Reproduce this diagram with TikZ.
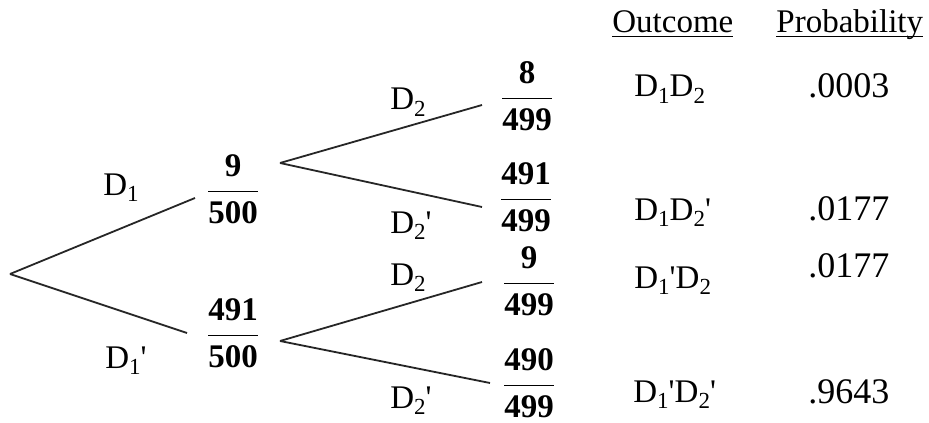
\documentclass[tikz,border=0pt]{standalone}
\usepackage{fontspec}
\setmainfont{Liberation Serif}
\usepackage{tikz}
\usetikzlibrary{positioning}

\newcommand{\Ev}[1]{D\raisebox{-3.3pt}{\fontsize{11.5}{12}\selectfont #1}}
\newcommand{\cmp}{\textquotesingle}
\newcommand{\pfrac}[2]{$\displaystyle\frac{\hbox{\bfseries #1}}{\hbox{\bfseries #2}}$}
\newcommand{\ulhead}[1]{\setbox0=\hbox{#1}\rlap{\rule[-2pt]{\wd0}{0.6pt}}\box0}

\begin{document}
\begin{tikzpicture}[
    x=0.5pt, y=-0.5pt,
    font=\fontsize{16.5}{19}\selectfont,
    frac/.style={inner sep=0pt},
    lbl/.style={anchor=base west, inner sep=0pt},
    prob/.style={lbl, font=\fontsize{18}{20}\selectfont},
    branch/.style={line width=0.9pt, black!85}
]
\useasboundingbox (0,0) rectangle (929,422);

% header
\node[lbl] (hout) at (612,33) {\ulhead{Outcome}};
\node[lbl] (hprob) at (776,33) {\ulhead{Probability}};

% first stage
\coordinate (root) at (10,274);
\node[frac] (d1) at (233,189) {\pfrac{9}{500}};
\node[frac] (d1c) at (233,333) {\pfrac{491}{500}};
\coordinate (d1in) at (195,198);
\coordinate (d1cin) at (187,333);
\coordinate (d1out) at (280,163);
\coordinate (d1cout) at (280,341);

% second stage
\node[frac] (d1d2) at (527,96) {\pfrac{8}{499}};
\node[frac] (d1d2c) at (526,197) {\pfrac{491}{499}};
\node[frac] (d1cd2) at (529,281) {\pfrac{9}{499}};
\node[frac] (d1cd2c) at (529,383) {\pfrac{490}{499}};
\coordinate (d1d2in) at (482,105);
\coordinate (d1d2cin) at (482,207);
\coordinate (d1cd2in) at (482,282);
\coordinate (d1cd2cin) at (490,383);

% branch labels
\node[lbl] (l1) at (103,195) {\Ev{1}};
\node[lbl] (l1c) at (105,368) {\Ev{1}\cmp};
\node[lbl] (l2a) at (390,110) {\Ev{2}};
\node[lbl] (l2ac) at (390,233) {\Ev{2}\cmp};
\node[lbl] (l2b) at (390,285) {\Ev{2}};
\node[lbl] (l2bc) at (390,408) {\Ev{2}\cmp};

% outcomes and probabilities
\node[lbl] (o1) at (634,97) {\Ev{1}\Ev{2}};
\node[lbl] (o2) at (634,220) {\Ev{1}\Ev{2}\cmp};
\node[lbl] (o3) at (634,288) {\Ev{1}\cmp\Ev{2}};
\node[lbl] (o4) at (633,402) {\Ev{1}\cmp\Ev{2}\cmp};
\node[prob] (p1) at (808,98) {.0003};
\node[prob] (p2) at (808,220) {.0177};
\node[prob] (p3) at (808,277) {.0177};
\node[prob] (p4) at (808,403) {.9643};

\draw[branch] (root) -- (d1in);
\draw[branch] (root) -- (d1cin);
\draw[branch] (d1out) -- (d1d2in);
\draw[branch] (d1out) -- (d1d2cin);
\draw[branch] (d1cout) -- (d1cd2in);
\draw[branch] (d1cout) -- (d1cd2cin);
\end{tikzpicture}
\end{document}
